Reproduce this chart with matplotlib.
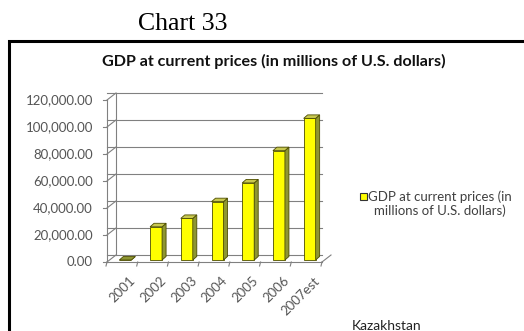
import matplotlib.pyplot as plt
from matplotlib.patches import Polygon, Rectangle

# GDP data (millions of US dollars)
years = ['2001', '2002', '2003', '2004', '2005', '2006', '2007est']
gdp = [0.0, 24600.0, 30800.0, 43200.0, 57100.0, 81000.0, 104900.0]
y_ticks = [0, 20000, 40000, 60000, 80000, 100000, 120000]
legend_label = 'GDP at current prices (in\nmillions of U.S. dollars)'

W, H = 524, 331
fig = plt.figure(figsize=(W / 100, H / 100), dpi=100)

def fx(px):
    return px / W

def fy(py):
    return 1 - py / H

# page heading and chart frame
fig.text(fx(183), fy(24), 'Chart 33', family='Liberation Serif', fontsize=18.5,
         ha='center', va='center', color='black')
fig.patches.append(Rectangle((fx(9), -0.2), 1.2, fy(41) + 0.2, transform=fig.transFigure,
                             fill=False, ec='black', lw=2.2))
fig.text(fx(274), fy(61), 'GDP at current prices (in millions of U.S. dollars)',
         family='Lato', weight='bold', fontsize=11.6, ha='center', va='center', color='#111111')

# front plane of the plot area
left, right, top, bottom = 107, 322, 100, 262
ax = fig.add_axes([fx(left), fy(bottom), fx(right - left), (bottom - top) / H])
n = len(years)
ax.set_xlim(-0.5, n - 0.5)
ax.set_ylim(0, 120000)
ax.axis('off')

xpx = (right - left) / n          # pixels per category
ypx = (bottom - top) / 120000     # pixels per value unit
wall_dx, wall_dy = 9 / xpx, 7 / ypx
grid_c = '#808080'
lab_c = '#555555'

# back wall gridlines and connectors
for t in y_ticks:
    ax.plot([-0.5, n - 0.5], [t + wall_dy] * 2, color=grid_c, lw=0.8, clip_on=False, zorder=1)
    ax.plot([-0.5, -0.5 + wall_dx], [t, t + wall_dy], color=grid_c, lw=0.8, clip_on=False)
    ax.plot([-0.5 - 4 / xpx, -0.5], [t, t], color=grid_c, lw=0.8, clip_on=False)
    ax.text(-0.5 - 14 / xpx, t, f'{t:,.2f}', family='Lato', fontsize=9.5, color=lab_c,
            ha='right', va='center')
ax.plot([-0.5 + wall_dx] * 2, [wall_dy, 120000 + wall_dy], color=grid_c, lw=0.8, clip_on=False)
ax.plot([-0.5, -0.5], [0, 120000], color=grid_c, lw=0.8, clip_on=False)

# floor
ax.plot([-0.5, n - 0.5], [0, 0], color=grid_c, lw=0.8, clip_on=False)
ax.plot([n - 0.5, n - 0.5 + wall_dx], [0, wall_dy], color=grid_c, lw=0.8, clip_on=False)
for k in range(n + 1):
    xb = k - 0.5
    ax.plot([xb, xb - 1 / xpx], [0, -4 / ypx], color=grid_c, lw=0.8, clip_on=False)

# category labels
for i, yr in enumerate(years):
    ax.text(i + 11 / xpx, -17 / ypx, yr, family='Lato', fontsize=9.5, color=lab_c,
            rotation=45, ha='right', va='center', rotation_mode='anchor')

# pseudo-3D columns
bw = 12 / xpx
off_x, off_y = 3 / xpx, 2 / ypx
bdx, bdy = 4 / xpx, 3.5 / ypx
edge = '#4d4d00'
bars = ax.bar([i + off_x for i in range(n)], gdp, width=bw, bottom=off_y,
              color='#ffff00', edgecolor=edge, lw=0.6, zorder=3, clip_on=False)
for b, v in zip(bars, gdp):
    l = b.get_x()
    r = l + b.get_width()
    y0 = off_y
    y1 = off_y + v
    side = Polygon([(r, y0), (r + bdx, y0 + bdy), (r + bdx, y1 + bdy), (r, y1)],
                   closed=True, fc='#8e9632', ec=edge, lw=0.6, zorder=3, clip_on=False)
    lid = Polygon([(l, y1), (l + bdx, y1 + bdy), (r + bdx, y1 + bdy), (r, y1)],
                  closed=True, fc='#c8c850' if v > 0 else '#8e9632', ec=edge, lw=0.6,
                  zorder=4, clip_on=False)
    ax.add_patch(side)
    ax.add_patch(lid)

# legend
fig.patches.append(Rectangle((fx(360), fy(200)), fx(7), 7 / H, transform=fig.transFigure,
                             fc='#ffff00', ec='#333333', lw=0.8))
fig.text(fx(440), fy(204), legend_label, family='Lato', fontsize=9.5, color='#404040',
         ha='center', va='center', multialignment='center', linespacing=1.15)

# caption cut by the frame bottom
fig.text(fx(352), fy(320), 'Kazakhstan', family='Lato', fontsize=10, color='#222222',
         ha='left', va='top')

fig.savefig('out.png', dpi=100)
